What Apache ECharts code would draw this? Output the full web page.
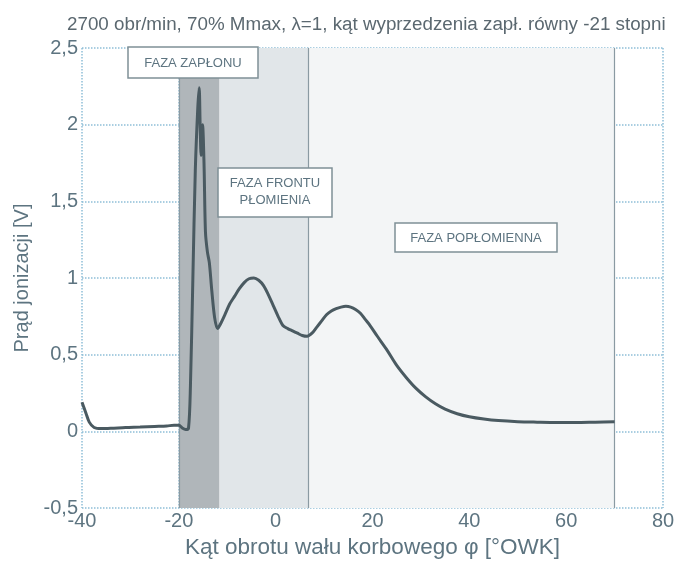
<!DOCTYPE html>
<html>
<head>
<meta charset="utf-8">
<script src="https://cdn.jsdelivr.net/npm/echarts@6/dist/echarts.min.js"></script>
<style>
  html, body { margin: 0; padding: 0; background: #fff; }
  #chart { width: 680px; height: 564px; }
</style>
</head>
<body>
<div id="chart"></div>
<script>
// kąt obrotu wału [°OWK]
var angles = [-40, -39.2, -38.5, -37.5, -36, -34, -31, -28, -25, -22.5, -21, -20, -19.2, -18.6,
  -18.0, -17.6, -17.1, -16.6, -16.1, -15.8, -15.6, -15.4, -15.1, -14.8, -14.5, -14.1, -13.7,
  -13.2, -12.6, -12.0, -11.4, -10.5, -9.5, -8.5, -7.5, -6.5, -5.5, -4.5, -3.5, -2.5, -1.5,
  -0.5, 0.5, 1.5, 2.5, 3.5, 4.5, 5.5, 6.5, 7.5, 8.5, 9.5, 10.5, 11.5, 12.5, 13.5, 14.5, 15.5,
  16.5, 17.5, 18.5, 19.5, 21, 23, 25, 27, 29, 31, 33, 35, 37.5, 40, 43, 46, 50, 54, 58, 62, 66, 70]
// prąd jonizacji [V]
var current = [0.19, 0.12, 0.06, 0.025, 0.018, 0.02, 0.025, 0.028, 0.032, 0.035, 0.04, 0.04, 0.02, 0.012,
  0.02, 0.3, 1.0, 1.7, 2.1, 2.24, 2.0, 1.8, 2.0, 1.75, 1.3, 1.17, 1.1,
  0.92, 0.74, 0.67, 0.7, 0.76, 0.83, 0.88, 0.93, 0.97, 0.995, 1.0, 0.985, 0.95, 0.89,
  0.82, 0.75, 0.69, 0.67, 0.655, 0.64, 0.625, 0.62, 0.64, 0.68, 0.72, 0.76, 0.785, 0.80, 0.81, 0.815, 0.81,
  0.795, 0.77, 0.73, 0.69, 0.62, 0.53, 0.43, 0.35, 0.28, 0.225, 0.18, 0.145, 0.115, 0.095, 0.08, 0.07, 0.063, 0.06, 0.058, 0.058, 0.06, 0.062]

// granice faz spalania
var phaseStart = [-20, -11.6, 6.8]
var phaseEnd = [-11.6, 6.8, 70]
var phaseColors = ['#b0b6ba', '#e1e6e9', '#f3f5f6']

var xTicks = { min: -40, max: 80, step: 20 }
var yTicks = { min: -0.5, max: 2.5, step: 0.5 }

var txt = '#5d7480'
var lineColor = '#4a5a61'

var seriesData = angles.map(function (a, i) { return [a, current[i]] })
var areas = phaseStart.map(function (s, i) {
  return [{ xAxis: s, itemStyle: { color: phaseColors[i] } }, { xAxis: phaseEnd[i] }]
})

var chart = echarts.init(document.getElementById('chart'))
chart.setOption({
  animation: false,
  title: {
    text: '2700 obr/min, 70% Mmax, λ=1, kąt wyprzedzenia zapł. równy -21 stopni',
    left: 62,
    top: 10,
    textStyle: { fontFamily: 'Liberation Sans', fontSize: 18.8, fontWeight: 'normal', color: '#5b6870' }
  },
  grid: { left: 82, right: 17, top: 48, bottom: 54 },
  xAxis: {
    type: 'value',
    min: xTicks.min,
    max: xTicks.max,
    interval: xTicks.step,
    name: 'Kąt obrotu wału korbowego φ [°OWK]',
    nameLocation: 'middle',
    nameGap: 28,
    nameTextStyle: { fontFamily: 'Liberation Sans', fontSize: 22.5, color: txt },
    axisLine: { show: false },
    axisTick: { show: false },
    axisLabel: { fontFamily: 'Liberation Sans', fontSize: 20, color: txt, margin: 3 },
    splitLine: { lineStyle: { type: 'dotted', color: '#8fbfd8', width: 1.5 } }
  },
  yAxis: {
    type: 'value',
    min: yTicks.min,
    max: yTicks.max,
    interval: yTicks.step,
    name: 'Prąd jonizacji [V]',
    nameLocation: 'middle',
    nameGap: 46,
    nameTextStyle: { fontFamily: 'Liberation Sans', fontSize: 20, color: txt },
    axisLine: { show: true, lineStyle: { color: '#a9c3d1', width: 1 } },
    axisTick: { show: false },
    axisLabel: {
      fontFamily: 'Liberation Sans', fontSize: 20, color: txt, margin: 4,
      formatter: function (v) { return String(v).replace('.', ',') }
    },
    splitLine: { lineStyle: { type: 'dotted', color: '#8fbfd8', width: 1.5 } }
  },
  series: [{
    type: 'line',
    data: seriesData,
    showSymbol: false,
    smooth: 0.3,
    lineStyle: { color: lineColor, width: 3 },
    markArea: { silent: true, data: areas },
    markLine: {
      silent: true,
      symbol: 'none',
      label: { show: false },
      lineStyle: { type: 'solid', color: '#8a9aa2', width: 1.2 },
      data: [{ xAxis: phaseStart[0] }, { xAxis: phaseStart[2] }, { xAxis: phaseEnd[2] }]
    },
    z: 5
  }],
  graphic: [
    { type: 'rect', shape: { x: 128, y: 47, width: 130, height: 31 }, style: { fill: '#fff', stroke: '#7f9097', lineWidth: 1.5 }, z: 10 },
    { type: 'text', x: 193, y: 63, style: { text: 'FAZA ZAPŁONU', font: '13px "Liberation Sans"', fill: txt, align: 'center', verticalAlign: 'middle' }, z: 11 },
    { type: 'rect', shape: { x: 218, y: 168, width: 114, height: 49 }, style: { fill: '#fff', stroke: '#7f9097', lineWidth: 1.5 }, z: 10 },
    { type: 'text', x: 275, y: 192, style: { text: 'FAZA FRONTU\nPŁOMIENIA', font: '13px "Liberation Sans"', lineHeight: 17, fill: txt, align: 'center', verticalAlign: 'middle' }, z: 11 },
    { type: 'rect', shape: { x: 395, y: 223, width: 162, height: 29 }, style: { fill: '#fff', stroke: '#7f9097', lineWidth: 1.5 }, z: 10 },
    { type: 'text', x: 476, y: 238, style: { text: 'FAZA POPŁOMIENNA', font: '13px "Liberation Sans"', fill: txt, align: 'center', verticalAlign: 'middle' }, z: 11 }
  ]
})
</script>
</body>
</html>
